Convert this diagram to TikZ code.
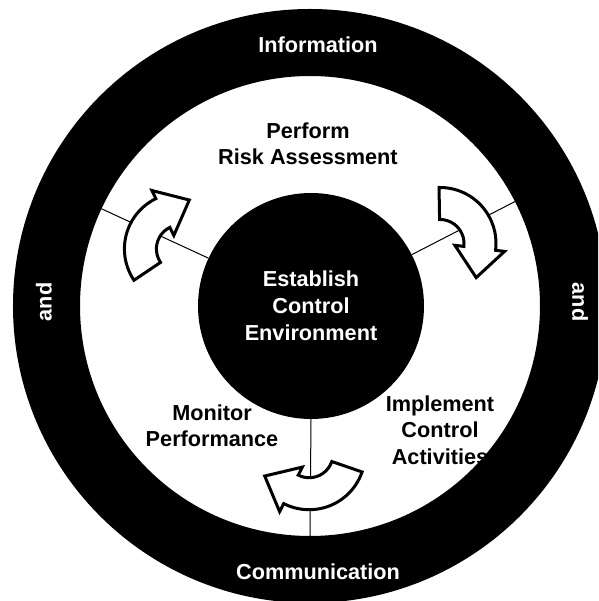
\documentclass[tikz,border=0pt]{standalone}
\usepackage{fontspec}
\setmainfont{Liberation Sans}

\tikzset{
  label text/.style={font=\fontsize{18.5}{22.5}\selectfont\bfseries, align=center},
  ring text/.style={label text, text=white},
  spoke/.style={line width=0.3mm},
  cycle arrow/.pic={
    \draw[line width=0.9mm, line join=miter, fill=white, shift={(0,-33)}]
      (149:56) arc[start angle=149, end angle=51, radius=56]
      -- (51:65) -- (48.1,12.6) -- (51:15) -- (51:24)
      arc[start angle=51, end angle=149, radius=24] -- cycle;
  }
}

\begin{document}
\begin{tikzpicture}[x=0.3mm, y=0.3mm]
\useasboundingbox (-310,-295) rectangle (288,306);
\clip (-310,-295) rectangle (288,306);
% outer ring
\fill[even odd rule] (0,0) circle (297) (0,0) circle (230);
% centre
\node[circle, fill=black, minimum size=67.8mm, inner sep=0pt, label text,
      font=\fontsize{18.5}{23}\selectfont\bfseries, text=white] (env) at (1,0)
  {Establish\\Control\\Environment};
% spokes
\coordinate (rim a) at (155:230);
\coordinate (rim b) at (27:230);
\coordinate (rim c) at (270:230);
\draw[spoke] (env.155) -- (rim a);
\draw[spoke] (env.27) -- (rim b);
\draw[spoke] (env.270) -- (rim c);
% arrows
\pic[rotate=65] at (-159.5,71) {cycle arrow};
\pic[rotate=-58] at (158,80) {cycle arrow};
\pic[rotate=192] at (6,-180) {cycle arrow};
% labels
\node[label text] (risk) at (-2,162) {Perform\\Risk Assessment};
\node[label text] (monitor) at (-98,-120) {Monitor\\Performance};
\node[label text] (implement) at (130,-124) {Implement\\Control\\Activities};
\node[ring text] (info) at (8,261) {Information};
\node[ring text] (comm) at (8,-266) {Communication};
\node[ring text, rotate=90] (and left) at (-266,4) {and};
\node[ring text, rotate=-90] (and right) at (270,4) {and};
\end{tikzpicture}
\end{document}
